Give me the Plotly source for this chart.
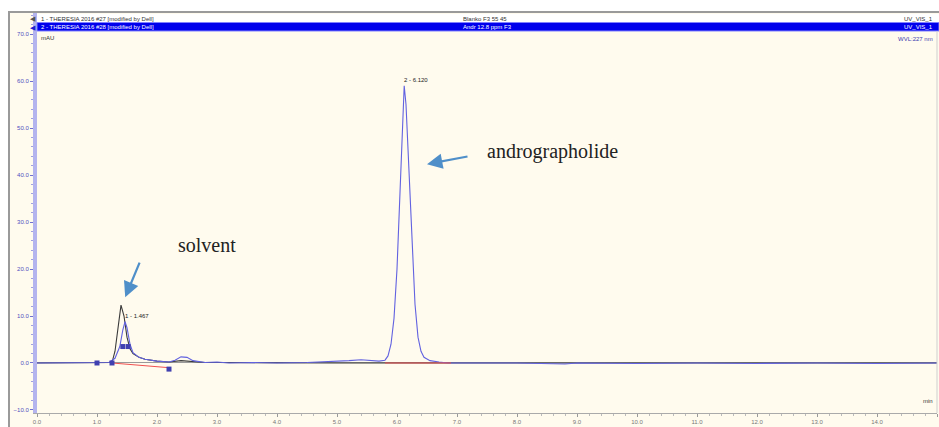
import plotly.graph_objects as go

# ---------------- data ----------------
# blank (#27) trace, black
blank_t = [0.0, 1.0, 1.25, 1.30, 1.35, 1.40, 1.45, 1.50, 1.55, 1.60, 1.70, 1.80, 2.00, 2.20, 2.40, 2.60, 2.80, 3.00, 4.0, 5.0, 6.0, 7.0, 8.0, 9.0, 10.0, 11.0, 12.0, 13.0, 14.0, 15.0]
blank_v = [0.0, 0.0, 0.1, 2.5, 8.0, 12.3, 10.0, 5.5, 3.0, 2.0, 1.2, 0.8, 0.4, 0.2, 0.5, 0.3, 0.1, 0.1, 0.0, 0.0, 0.0, 0.0, 0.0, 0.0, 0.0, 0.0, 0.0, 0.0, 0.0, 0.0]

# sample (#28) trace, blue
samp_t = [0.0, 1.0, 1.20, 1.30, 1.38, 1.43, 1.467, 1.50, 1.55, 1.60, 1.70, 1.80, 2.00, 2.20, 2.30, 2.40, 2.50, 2.60, 2.80, 3.00, 3.20, 3.60, 4.00, 4.50, 5.00, 5.20, 5.40, 5.60, 5.70,
          5.80, 5.85, 5.90, 5.95, 6.00, 6.05, 6.10, 6.12, 6.15, 6.20, 6.25, 6.30, 6.35, 6.40, 6.45, 6.55, 6.70, 6.85, 7.2, 8.0, 8.8, 9.0, 10.0, 11.0, 12.0, 13.0, 14.0, 15.0]
samp_v = [0.0, 0.0, 0.1, 1.0, 3.5, 7.0, 8.8, 7.5, 4.0, 2.2, 1.2, 0.8, 0.4, 0.2, 0.6, 1.3, 1.2, 0.5, 0.1, 0.2, 0.0, 0.1, 0.0, 0.1, 0.3, 0.5, 0.7, 0.5, 0.4,
          0.6, 1.5, 4.0, 9.5, 20.0, 35.0, 53.0, 59.0, 55.0, 40.0, 25.0, 12.5, 5.5, 2.5, 1.2, 0.5, 0.2, 0.0, 0.0, 0.0, -0.2, 0.0, -0.1, 0.0, -0.1, 0.0, -0.1, 0.0]

# integration delimiters and baselines
delim_t = [1.0, 1.25, 1.43, 1.52, 2.2]
delim_v = [0.0, 0.0, 3.5, 3.5, -1.3]
base1_t = [1.25, 2.2]
base1_v = [0.0, -1.0]
base2_t = [5.8, 6.9]
base2_v = [0.0, 0.0]

peak_labels = ["1 - 1.467", "2 - 6.120"]
peak_t = [1.467, 6.12]
peak_v = [8.8, 59.0]

x_ticks = [0, 1, 2, 3, 4, 5, 6, 7, 8, 9, 10, 11, 12, 13, 14, 15]
x_ticktext = ["0.0", "1.0", "2.0", "3.0", "4.0", "5.0", "6.0", "7.0", "8.0", "9.0", "10.0", "11.0", "12.0", "13.0", "14.0", "15"]
y_ticks = [-10, 0, 10, 20, 30, 40, 50, 60, 70]

# ---------------- geometry ----------------
W, H = 939, 427
ML, MR, MT, MB = 37, 2, 13, 14
PW, PH = W - ML - MR, H - MT - MB
def px(x):
    return (x - ML) / PW
def py(y):
    return (H - MB - y) / PH

CREAM = "#FFFBEE"
BLUE = "#6262E0"

fig = go.Figure()
fig.add_trace(go.Scatter(x=blank_t, y=blank_v, mode="lines", line=dict(color="#3a3a3a", width=1.1), showlegend=False))
fig.add_trace(go.Scatter(x=samp_t, y=samp_v, mode="lines", line=dict(color=BLUE, width=1.1), showlegend=False))
fig.add_trace(go.Scatter(x=base1_t, y=base1_v, mode="lines", line=dict(color="#f05050", width=1), showlegend=False))
fig.add_trace(go.Scatter(x=base2_t, y=base2_v, mode="lines", line=dict(color="#f05050", width=1), showlegend=False))
fig.add_trace(go.Scatter(x=delim_t, y=delim_v, mode="markers", marker=dict(color="#4040b0", size=5, symbol="square"), showlegend=False))

annotations = []
for lab, t, v in zip(peak_labels, peak_t, peak_v):
    annotations.append(dict(x=t, y=v, text=lab, showarrow=False, xanchor="left", yanchor="bottom",
                            xshift=-2, yshift=1, font=dict(size=6, color="#222", family="Liberation Sans")))

# arrows
annotations.append(dict(x=1.47, y=14.0, ax=15, ay=-36, text="", showarrow=True, arrowhead=2, arrowsize=1.4,
                        arrowwidth=2.2, arrowcolor="#4F8FC9"))
annotations.append(dict(x=6.5, y=42.3, ax=42, ay=-8, text="", showarrow=True, arrowhead=2, arrowsize=1.4,
                        arrowwidth=2.2, arrowcolor="#4F8FC9"))
annotations.append(dict(x=px(176), y=py(245), xref="paper", yref="paper", text="solvent", showarrow=False,
                        font=dict(size=20, family="Liberation Serif", color="#222")))
annotations.append(dict(x=px(552), y=py(151), xref="paper", yref="paper", text="andrographolide", showarrow=False,
                        font=dict(size=20, family="Liberation Serif", color="#222")))

# header texts
hf = dict(size=6, family="Liberation Sans")
hdr = dict(xref="paper", yref="paper", showarrow=False, borderpad=0, yanchor="middle")
annotations += [
    dict(x=px(40), y=py(18.5), text="1 - THERESIA 2016 #27 [modified by Dell]", xanchor="left", font=dict(color="#333", **hf), **hdr),
    dict(x=px(40), y=py(27), text="2 - THERESIA 2016 #28 [modified by Dell]", xanchor="left", font=dict(color="white", **hf), **hdr),
    dict(x=px(462), y=py(18.5), text="Blanko F3 55 45", xanchor="left", font=dict(color="#333", **hf), **hdr),
    dict(x=px(462), y=py(27), text="Andr 12.8 ppm F3", xanchor="left", font=dict(color="white", **hf), **hdr),
    dict(x=px(934), y=py(18.5), text="UV_VIS_1", xanchor="right", font=dict(color="#333", **hf), **hdr),
    dict(x=px(934), y=py(27), text="UV_VIS_1", xanchor="right", font=dict(color="white", **hf), **hdr),
    dict(x=px(40), y=py(38), text="mAU", xanchor="left", font=dict(color="#333", **hf), **hdr),
    dict(x=px(934), y=py(39), text="WVL:227 nm", xanchor="right", font=dict(color="#4040b0", **hf), **hdr),
    dict(x=px(934), y=py(401), text="min", xanchor="right", font=dict(color="#333", **hf), **hdr),
    dict(x=px(37), y=py(18.5), text="◀", xanchor="right", font=dict(color="#555", size=7), **hdr),
    dict(x=px(37), y=py(27), text="◀", xanchor="right", font=dict(color="#2020d0", size=7), **hdr),
]

shapes = [
    # white outside strips
    dict(type="rect", xref="paper", yref="paper", x0=px(0), x1=px(W), y0=py(0), y1=py(12), fillcolor="white", line=dict(width=0), layer="below"),
    dict(type="rect", xref="paper", yref="paper", x0=px(0), x1=px(8), y0=py(0), y1=py(H), fillcolor="white", line=dict(width=0), layer="below"),
    # frame lines
    dict(type="line", xref="paper", yref="paper", x0=px(8), x1=px(W), y0=py(12), y1=py(12), line=dict(color="#9a9a9a", width=2)),
    dict(type="line", xref="paper", yref="paper", x0=px(9), x1=px(9), y0=py(12), y1=py(H), line=dict(color="#9a9a9a", width=2)),
    # header rows
    dict(type="rect", xref="paper", yref="paper", x0=px(37), x1=px(W), y0=py(14), y1=py(22.5), fillcolor="white", line=dict(width=0)),
    dict(type="rect", xref="paper", yref="paper", x0=px(37), x1=px(W), y0=py(22.5), y1=py(31), fillcolor="#0000EC", line=dict(color="#8080ff", width=1)),
    # right frame
    dict(type="line", xref="paper", yref="paper", x0=px(937), x1=px(937), y0=py(31), y1=py(413), line=dict(color="#cfcfcf", width=1)),
]

fig.update_layout(
    width=W, height=H,
    margin=dict(l=ML, r=MR, t=MT, b=MB),
    paper_bgcolor=CREAM, plot_bgcolor=CREAM,
    annotations=annotations, shapes=shapes,
    xaxis=dict(range=[0, 15], tickvals=x_ticks, ticktext=x_ticktext, ticks="outside", ticklen=3, tickcolor="#999",
               showgrid=False, zeroline=False, showline=True, linecolor="#aaaaaa", linewidth=1,
               tickfont=dict(size=6, color="#777", family="Liberation Sans"),
               minor=dict(dtick=0.2, ticks="outside", ticklen=2, tickcolor="#bbb")),
    yaxis=dict(range=[-10.64, 74.47],
               tickvals=y_ticks, tickformat=".1f", ticks="outside", ticklen=3, tickcolor="#7070d0",
               showgrid=False, zeroline=True, zerolinecolor="#9a9a9a", zerolinewidth=1,
               showline=True, linecolor="#b4b4ee", linewidth=4,
               tickfont=dict(size=6, color="#5050c0", family="Liberation Sans"),
               minor=dict(dtick=2, ticks="outside", ticklen=2, tickcolor="#a0a0e0")),
)

fig.write_html("out.html", config={"displayModeBar": False},
               post_script="document.body.style.margin='0';document.body.style.overflow='hidden';")
